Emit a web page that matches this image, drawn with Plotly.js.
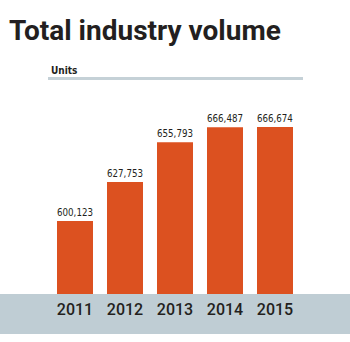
<!DOCTYPE html>
<html><head><meta charset="utf-8">
<script src="https://cdn.plot.ly/plotly-3.0.1.min.js"></script>
<style>html,body{margin:0;padding:0;background:#fff}#chart{width:350px;height:342px}</style>
</head><body><div id="chart"></div>
<script>
const years = ['2011','2012','2013','2014','2015'];
const volumes = [600123, 627753, 655793, 666487, 666674];
const labels = ['600,123','627,753','655,793','666,487','666,674'];

const W = 350, H = 342;
const mL = 50, mR = 50, mT = 80, mB = 48;
const plotW = W - mL - mR, plotH = H - mT - mB;
const px = v => v / plotW, py = v => v / plotH;

Plotly.newPlot('chart', [{
  type: 'bar', x: years, y: volumes, text: labels,
  textposition: 'outside', cliponaxis: false,
  textfont: {family: 'Liberation Sans Narrow, DejaVu Sans Condensed, sans-serif', size: 12, color: '#231f20'},
  marker: {color: '#dc5120'}, hoverinfo: 'none'
}], {
  width: W, height: H,
  margin: {l: mL, r: mR, t: mT, b: mB, pad: 0},
  paper_bgcolor: '#ffffff', plot_bgcolor: 'rgba(0,0,0,0)',
  bargap: 0.28, showlegend: false,
  xaxis: {type: 'category', showgrid: false, zeroline: false, showline: false, ticks: '',
    tickfont: {family: 'Roboto, sans-serif', size: 16, color: '#231f20', weight: 500}, ticklabelstandoff: 4},
  yaxis: {range: [548438, 699950], visible: false, fixedrange: true},
  shapes: [
    {type: 'rect', xref: 'paper', yref: 'paper', x0: px(-mL), x1: 1 + px(mR), y0: -py(40), y1: 0,
     fillcolor: '#bfcdd4', line: {width: 0}, layer: 'below'},
    {type: 'rect', xref: 'paper', yref: 'paper', x0: px(48 - mL), x1: px(303 - mL), y0: 1 + py(0), y1: 1 + py(3),
     fillcolor: '#c5d1d7', line: {width: 0}, layer: 'below'}
  ],
  annotations: [
    {text: 'Total industry volume', xref: 'paper', yref: 'paper', x: px(7 - mL), y: 1 + py(mT - 31),
     xanchor: 'left', yanchor: 'middle', showarrow: false,
     font: {family: 'Roboto, sans-serif', size: 28, color: '#231f20', weight: 700}},
    {text: 'Units', xref: 'paper', yref: 'paper', x: px(49 - mL), y: 1 + py(mT - 70),
     xanchor: 'left', yanchor: 'middle', showarrow: false,
     font: {family: 'Liberation Sans Narrow, DejaVu Sans Condensed, sans-serif', size: 10, color: '#231f20', weight: 700}}
  ]
}, {staticPlot: true});
</script></body></html>
